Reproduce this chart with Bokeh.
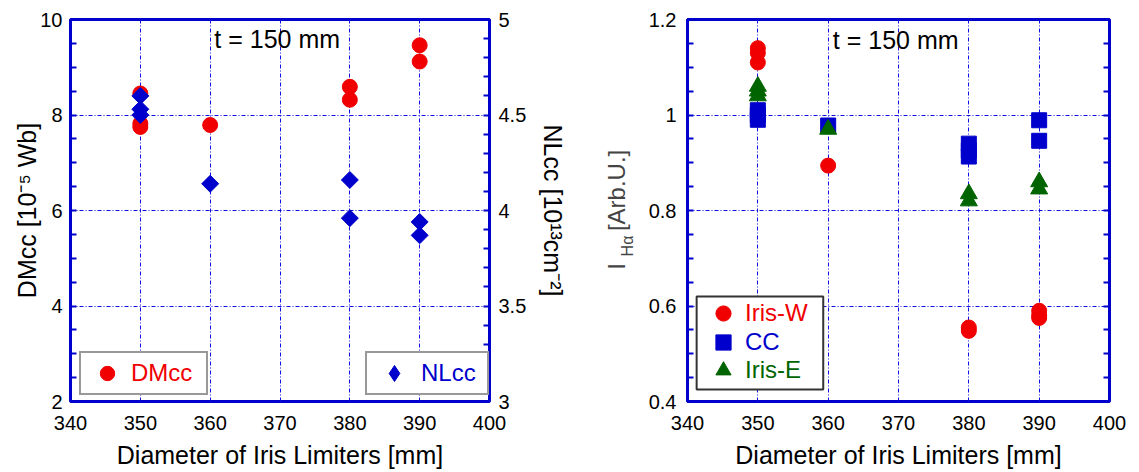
import math
from bokeh.plotting import figure
from bokeh.models import (Range1d, LinearAxis, FixedTicker, Legend,
                          LegendItem, Label, BoxAnnotation, CustomJSTickFormatter)
from bokeh.layouts import row
from bokeh.embed import file_html
from bokeh.resources import INLINE

# ---------------- data ----------------
# left panel
x_dm = [350, 350, 350, 360, 380, 380, 390, 390]
dmcc = [8.45, 7.82, 7.75, 7.79, 8.59, 8.32, 9.46, 9.12]
x_nl = [350, 350, 350, 360, 380, 380, 390, 390]
nlcc = [4.60, 4.53, 4.50, 4.14, 4.16, 3.96, 3.94, 3.87]

# right panel
x_w = [350, 350, 350, 360, 380, 380, 390, 390, 390]
iris_w = [1.14, 1.13, 1.11, 0.894, 0.555, 0.548, 0.59, 0.58, 0.575]
x_cc = [350, 350, 350, 360, 380, 380, 380, 390, 390]
cc = [1.01, 1.0, 0.99, 0.978, 0.94, 0.926, 0.913, 0.989, 0.946]
x_e = [350, 350, 350, 360, 380, 380, 390, 390]
iris_e = [1.06, 1.05, 1.04, 0.97, 0.835, 0.82, 0.86, 0.845]

x_ticks = [340, 350, 360, 370, 380, 390, 400]
dm_ticks = [2, 4, 6, 8, 10]
nl_ticks = [3, 3.5, 4, 4.5, 5]
ih_ticks = [0.4, 0.6, 0.8, 1.0, 1.2]

x_title = "Diameter of Iris Limiters [mm]"
note = "t = 150 mm"

FONT = "Liberation Sans"
RED = "#f00000"
BLUE = "#0000cc"
GREEN = "#006400"
FRAME = "#0000cc"
GRID = "#1010e0"

fmt = CustomJSTickFormatter(code="return String(Number(tick.toFixed(3)))")


def minors(ticks, n):
    out = []
    for a, b in zip(ticks[:-1], ticks[1:]):
        for k in range(1, n):
            out.append(round(a + (b - a) * k / n, 4))
    return out


def style(p):
    p.outline_line_color = FRAME
    p.outline_line_width = 3
    p.outline_line_alpha = 1
    p.background_fill_color = "white"
    p.border_fill_color = "white"
    for g in (p.xgrid, p.ygrid):
        g.grid_line_color = GRID
        g.grid_line_dash = "4 2 1 2"
        g.grid_line_width = 1


def style_axis(ax, label_size="20px"):
    ax.axis_line_color = None
    ax.major_label_text_font = FONT
    ax.major_label_text_font_size = label_size
    ax.major_label_text_color = "black"
    ax.axis_label_text_font = FONT
    ax.axis_label_text_font_size = "25px"
    ax.axis_label_text_font_style = "normal"
    ax.axis_label_text_color = "black"
    ax.major_tick_line_color = FRAME
    ax.minor_tick_line_color = FRAME
    ax.major_tick_line_width = 2
    ax.minor_tick_line_width = 2
    ax.major_tick_in = 6
    ax.major_tick_out = 0
    ax.minor_tick_in = 6
    ax.minor_tick_out = 0
    ax.formatter = fmt


# ---------------- left panel ----------------
p1 = figure(width=570, height=472, x_range=Range1d(340, 400), y_range=Range1d(2, 10),
            output_backend="svg", toolbar_location=None,
            min_border_left=70, min_border_right=76, min_border_top=19, min_border_bottom=71)
style(p1)
p1.extra_y_ranges = {"nl": Range1d(3, 5)}

p1.xaxis.ticker = FixedTicker(ticks=x_ticks)
p1.yaxis.ticker = FixedTicker(ticks=dm_ticks, minor_ticks=minors(dm_ticks, 4))
p1.xaxis.axis_label = x_title
p1.yaxis.axis_label = "DMcc [10\u207b\u2075 Wb]"
for ax in p1.xaxis + p1.yaxis:
    style_axis(ax)
p1.xaxis.major_tick_in = 0
p1.xaxis.major_label_standoff = 14
p1.xaxis.axis_label_standoff = 8
p1.yaxis.major_label_standoff = 8
p1.yaxis.axis_label_standoff = -4

ax_r = LinearAxis(y_range_name="nl", ticker=FixedTicker(ticks=nl_ticks, minor_ticks=minors(nl_ticks, 5)),
                  axis_label="NLcc [10\u00b9\u00b3cm\u207b\u00b2]")
style_axis(ax_r)
ax_r.major_label_standoff = 9
ax_r.axis_label_standoff = 10
p1.add_layout(ax_r, "right")

r_dm = p1.scatter(x_dm, dmcc, marker="circle", size=15, color=RED)
# diamond-shaped key for the legend; hidden underneath the rotated squares below
r_nl_key = p1.scatter(x_nl, nlcc, marker="diamond", size=12, color=BLUE, y_range_name="nl")
r_nl = p1.scatter(x_nl, nlcc, marker="square", angle=math.pi / 4, size=12, color=BLUE,
                  y_range_name="nl")

p1.add_layout(Label(x=369.6, y=9.6, text=note, text_align="center", text_baseline="middle",
                    text_font=FONT, text_font_size="25px", text_color="black"))

leg_common = dict(margin=0, border_line_color="#333333", border_line_width=2,
                  background_fill_color="white", background_fill_alpha=1,
                  label_text_font=FONT, label_text_font_size="24px", label_standoff=0)
leg_dm = Legend(items=[LegendItem(label="DMcc", renderers=[r_dm])], location=(9, 6),
                padding=2, glyph_width=48, glyph_height=36, label_width=73,
                label_text_color=RED, **leg_common)
leg_nl = Legend(items=[LegendItem(label="NLcc", renderers=[r_nl_key])], location=(295, 6),
                padding=0, glyph_width=54, glyph_height=40, label_width=66,
                label_text_color=BLUE, **leg_common)
p1.add_layout(leg_dm)
p1.add_layout(leg_nl)

# ---------------- y-title strip for the right panel ----------------
# x = page pixel; y uses the same scale as the right panel (frames are aligned in the row)
pt = figure(width=75, height=472, x_range=Range1d(570, 645), y_range=Range1d(0.4, 1.2),
            output_backend="svg", toolbar_location=None,
            x_axis_location=None, y_axis_location=None,
            min_border_left=0, min_border_right=0, min_border_top=16, min_border_bottom=71)
pt.outline_line_color = None
pt.xgrid.visible = False
pt.ygrid.visible = False
pt.background_fill_color = "white"
pt.border_fill_color = "white"
pt.add_layout(Label(x=615.5, y=0.683, text="I", angle=math.pi / 2, text_align="center",
                    text_baseline="middle", text_font=FONT, text_font_size="24px"))
pt.add_layout(Label(x=627, y=0.7257, text="H\u03b1", angle=math.pi / 2, text_align="center",
                    text_baseline="middle", text_font=FONT, text_font_size="16px"))
pt.add_layout(Label(x=615.5, y=0.842, text="[Arb.U.]", angle=math.pi / 2, text_align="center",
                    text_baseline="middle", text_font=FONT, text_font_size="24px"))

# ---------------- right panel ----------------
p2 = figure(width=494, height=472, x_range=Range1d(340, 400), y_range=Range1d(0.4, 1.2),
            output_backend="svg", toolbar_location=None,
            min_border_left=41, min_border_right=30, min_border_top=16, min_border_bottom=71)
style(p2)
yt = FixedTicker(ticks=ih_ticks, minor_ticks=minors(ih_ticks, 4))
p2.xaxis.ticker = FixedTicker(ticks=x_ticks)
p2.yaxis.ticker = yt
p2.xaxis.axis_label = x_title
for ax in p2.xaxis + p2.yaxis:
    style_axis(ax)
p2.xaxis.major_tick_in = 0
p2.xaxis.major_label_standoff = 14
p2.xaxis.axis_label_standoff = 8
p2.yaxis.major_label_standoff = 11

ax_r2 = LinearAxis(ticker=yt)
style_axis(ax_r2)
ax_r2.major_label_text_color = None
p2.add_layout(ax_r2, "right")

r_w = p2.scatter(x_w, iris_w, marker="circle", size=15, color=RED)
r_cc = p2.scatter(x_cc, cc, marker="square", size=15, color=BLUE)
r_e = p2.scatter(x_e, iris_e, marker="triangle", size=17, color=GREEN)

p2.add_layout(Label(x=369.6, y=1.158, text=note, text_align="center", text_baseline="middle",
                    text_font=FONT, text_font_size="25px", text_color="black"))

p2.add_layout(BoxAnnotation(left=341.3, right=359.3, bottom=0.425, top=0.62,
                            fill_color="white", fill_alpha=1,
                            line_color="#333333", line_width=2, line_alpha=1))
leg_t = dict(margin=0, padding=0, border_line_color=None, background_fill_alpha=0,
             glyph_width=38, glyph_height=38, label_standoff=3,
             label_text_font=FONT, label_text_font_size="24px")
for r, lab, col, yb in ((r_w, "Iris-W", RED, 69), (r_cc, "CC", BLUE, 40), (r_e, "Iris-E", GREEN, 12)):
    p2.add_layout(Legend(items=[LegendItem(label=lab, renderers=[r])], location=(17, yb),
                         label_text_color=col, **leg_t))

layout = row(p1, pt, p2)
open("out.html", "w").write(file_html(layout, INLINE))
